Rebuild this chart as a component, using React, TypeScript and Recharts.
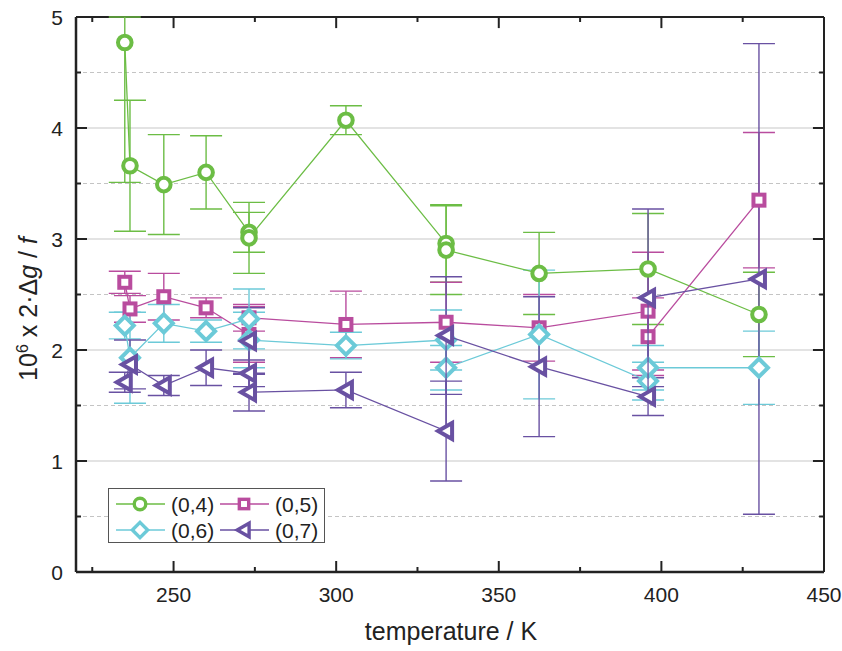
import React from 'react';
import { ScatterChart, Scatter, XAxis, YAxis, ErrorBar, ReferenceLine } from 'recharts';

// (0,4)
const temps04 = [235, 236.6, 247, 260, 273.2, 273.2, 303, 333.8, 333.8, 362.4, 395.9, 430];
const vals04 = [4.77, 3.66, 3.49, 3.6, 3.06, 3.01, 4.07, 2.96, 2.9, 2.69, 2.73, 2.32];
// [minus, plus]; the first bar runs past the top of the frame, so it stops at 5
const errs04 = [[1.26, 0.23], 0.59, 0.45, 0.33, 0.18, 0.32, 0.13, 0.35, 0.4, 0.37, 0.5, 0.38];

// (0,5)
const temps05 = [235, 236.6, 247, 260, 273.2, 273.2, 303, 333.8, 362.4, 395.9, 395.9, 430];
const vals05 = [2.61, 2.37, 2.48, 2.38, 2.14, 2.29, 2.23, 2.25, 2.2, 2.35, 2.12, 3.35];
const errs05 = [0.1, 0.12, 0.21, 0.09, 0.25, 0.12, 0.3, 0.36, 0.3, 0.53, 0.35, 0.61];

// (0,6)
const temps06 = [235, 236.6, 247, 260, 273.2, 273.2, 303, 333.8, 333.8, 362.4, 395.9, 395.9, 430];
const vals06 = [2.22, 1.93, 2.24, 2.17, 2.28, 2.09, 2.04, 2.09, 1.84, 2.14, 1.72, 1.84, 1.84];
const errs06 = [0.12, 0.41, 0.17, 0.1, 0.27, 0.25, 0.12, 0.27, 0.2, 0.58, 0.17, 0.2, 0.33];

// (0,7)
const temps07 = [235, 236.6, 247, 260, 273.2, 273.2, 273.2, 303, 333.8, 333.8, 362.4, 395.9, 395.9, 430];
const vals07 = [1.71, 1.87, 1.68, 1.84, 1.79, 2.08, 1.62, 1.64, 1.27, 2.13, 1.85, 1.58, 2.47, 2.64];
const errs07 = [0.09, 0.22, 0.09, 0.16, 0.12, 0.3, 0.17, 0.16, 0.45, 0.53, 0.63, 0.17, 0.8, 2.12];

const xTicks = [225, 250, 275, 300, 325, 350, 375, 400, 425, 450];
const yTicks = [0, 0.5, 1, 1.5, 2, 2.5, 3, 3.5, 4, 4.5, 5];
const solidGrid = [1, 2, 3, 4];
const dashedGrid = [0.5, 1.5, 2.5, 3.5, 4.5];
const X_MIN = 220;
const X_MAX = 450;
const Y_MIN = 0;
const Y_MAX = 5;

const build = (t: number[], v: number[], e: any[]) => t.map((x, i) => ({ x, y: v[i], err: e[i] }));

const series = [
  { name: '(0,4)', kind: 'circle', color: '#6cbd45', data: build(temps04, vals04, errs04) },
  { name: '(0,5)', kind: 'square', color: '#b94c9e', data: build(temps05, vals05, errs05) },
  { name: '(0,6)', kind: 'diamond', color: '#6ccad8', data: build(temps06, vals06, errs06) },
  { name: '(0,7)', kind: 'triangle', color: '#6951a2', data: build(temps07, vals07, errs07) },
];

const FONT = '"Liberation Sans", Arial, sans-serif';
const AXIS = '#222';

function Marker({ kind, cx, cy, color, s = 1 }: any) {
  if (cx == null || cy == null) return null;
  const sw = 4 * s;
  if (kind === 'circle')
    return <circle cx={cx} cy={cy} r={6.8 * s} fill="#fff" stroke={color} strokeWidth={sw} />;
  if (kind === 'square')
    return (
      <rect x={cx - 5.5 * s} y={cy - 5.5 * s} width={11 * s} height={11 * s} fill="#fff" stroke={color} strokeWidth={sw} />
    );
  if (kind === 'diamond') {
    const d = 9 * s;
    return (
      <polygon
        points={`${cx},${cy - d} ${cx + d},${cy} ${cx},${cy + d} ${cx - d},${cy}`}
        fill="#fff"
        stroke={color}
        strokeWidth={sw}
      />
    );
  }
  return (
    <polygon
      points={`${cx - 8 * s},${cy} ${cx + 6 * s},${cy - 8 * s} ${cx + 6 * s},${cy + 8 * s}`}
      fill="#fff"
      stroke={color}
      strokeWidth={sw}
    />
  );
}

const isMajorX = (v: number) => v % 50 === 0;
const isMajorY = (v: number) => Number.isInteger(v);

function BottomTick({ x, y, payload }: any) {
  const v = payload.value;
  const major = isMajorX(v);
  return (
    <g>
      <line x1={x} x2={x} y1={y} y2={y - (major ? 11 : 5)} stroke={AXIS} strokeWidth={2} />
      {major && (
        <text x={x} y={y + 30} textAnchor="middle" fontSize={21} fontFamily={FONT} fill={AXIS}>
          {v}
        </text>
      )}
    </g>
  );
}

function LeftTick({ x, y, payload }: any) {
  const v = payload.value;
  const major = isMajorY(v);
  return (
    <g>
      <line x1={x} x2={x + (major ? 11 : 5)} y1={y} y2={y} stroke={AXIS} strokeWidth={2} />
      {major && (
        <text x={x - 13} y={y + 7.5} textAnchor="end" fontSize={21} fontFamily={FONT} fill={AXIS}>
          {v}
        </text>
      )}
    </g>
  );
}

function Overlay() {
  const rows = [
    [series[0], series[1]],
    [series[2], series[3]],
  ];
  const cols = [116, 220];
  return (
    <svg width={842} height={651} style={{ position: 'absolute', left: 0, top: 0, pointerEvents: 'none' }}>
      <rect x={108.5} y={488.5} width={216} height={54} fill="#fff" stroke="#555" strokeWidth={1} />
      {rows.map((row, ri) =>
        row.map((s, ci) => {
          const x0 = cols[ci];
          const cy = 504 + ri * 26;
          return (
            <g key={s.name}>
              <line x1={x0} x2={x0 + 49} y1={cy} y2={cy} stroke={s.color} strokeWidth={1.4} />
              <Marker kind={s.kind} cx={x0 + 24} cy={cy} color={s.color} s={0.85} />
              <text x={x0 + 55} y={cy + 7.5} fontSize={21} fontFamily={FONT} fill={AXIS}>
                {s.name}
              </text>
            </g>
          );
        })
      )}
      <text x={451} y={640} textAnchor="middle" fontSize={25} fontFamily={FONT} fill={AXIS}>
        temperature / K
      </text>
      <text transform="translate(37, 309) rotate(-90)" textAnchor="middle" fontSize={25} fontFamily={FONT} fill={AXIS}>
        10<tspan dy={-9} fontSize={16}>6</tspan>
        <tspan dy={9}> x 2·Δ</tspan>
        <tspan fontStyle="italic">g</tspan>
        <tspan> / </tspan>
        <tspan fontStyle="italic">f</tspan>
      </text>
    </svg>
  );
}

// top and right frame tick lengths, in data units (about 11 px / 5 px)
const topTickLen = (v: number) => (isMajorX(v) ? 0.1 : 0.045);
const rightTickLen = (v: number) => (isMajorY(v) ? 3.4 : 1.5);

export default function App() {
  return (
    <div style={{ position: 'absolute', left: 0, top: 0, width: 842, height: 651, background: '#fff' }}>
      <ScatterChart width={842} height={651} margin={{ top: 17, right: 18, bottom: 0, left: 0 }}>
        <XAxis
          dataKey="x"
          type="number"
          domain={[X_MIN, X_MAX]}
          ticks={xTicks}
          interval={0}
          allowDataOverflow
          height={79}
          tickSize={0}
          tickMargin={0}
          tickLine={false}
          axisLine={{ stroke: AXIS, strokeWidth: 2.5 }}
          tick={<BottomTick />}
        />
        <YAxis
          dataKey="y"
          type="number"
          domain={[Y_MIN, Y_MAX]}
          ticks={yTicks}
          interval={0}
          allowDataOverflow
          width={76}
          tickSize={0}
          tickMargin={0}
          tickLine={false}
          axisLine={{ stroke: AXIS, strokeWidth: 2.5 }}
          tick={<LeftTick />}
        />
        {solidGrid.map((v) => (
          <ReferenceLine key={`s${v}`} y={v} stroke="#dadada" strokeWidth={1.6} />
        ))}
        {dashedGrid.map((v) => (
          <ReferenceLine key={`d${v}`} y={v} stroke="#c4c4c4" strokeWidth={1} strokeDasharray="4 3" />
        ))}
        {/* frame: top and right sides with inward ticks */}
        <ReferenceLine y={Y_MAX} stroke={AXIS} strokeWidth={2} />
        <ReferenceLine x={X_MAX} stroke={AXIS} strokeWidth={2} />
        {xTicks.map((v) => (
          <ReferenceLine
            key={`tt${v}`}
            segment={[
              { x: v, y: Y_MAX },
              { x: v, y: Y_MAX - topTickLen(v) },
            ]}
            stroke={AXIS}
            strokeWidth={2}
          />
        ))}
        {yTicks.map((v) => (
          <ReferenceLine
            key={`rt${v}`}
            segment={[
              { x: X_MAX, y: v },
              { x: X_MAX - rightTickLen(v), y: v },
            ]}
            stroke={AXIS}
            strokeWidth={2}
          />
        ))}
        {series.map((s) => (
          <Scatter
            key={s.name}
            name={s.name}
            data={s.data}
            isAnimationActive={false}
            line={{ stroke: s.color, strokeWidth: 1.3 }}
            lineType="joint"
            shape={(p: any) => <Marker kind={s.kind} cx={p.cx} cy={p.cy} color={s.color} />}
          >
            <ErrorBar dataKey="err" direction="y" width={16} stroke={s.color} strokeWidth={1.4} isAnimationActive={false} />
          </Scatter>
        ))}
      </ScatterChart>
      <Overlay />
    </div>
  );
}
